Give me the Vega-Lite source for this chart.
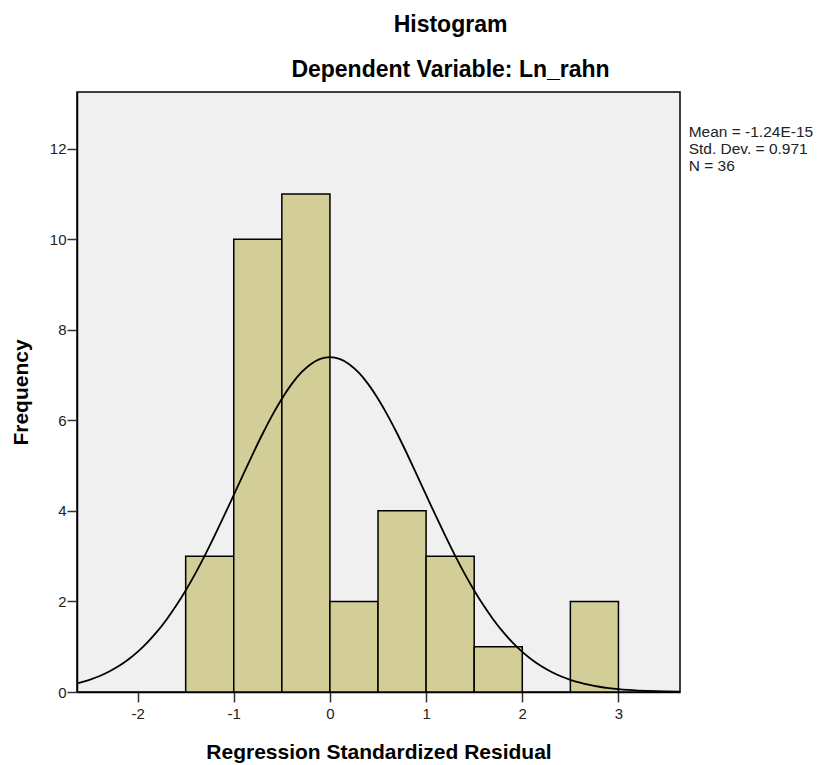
{
  "$schema": "https://vega.github.io/schema/vega-lite/v6.json",
  "autosize": {"type": "none"},
  "padding": {"left": 77, "top": 92, "right": 137, "bottom": 73},
  "width": 603,
  "height": 600,
  "background": "white",
  "config": {
    "font": "Liberation Sans",
    "view": {"fill": "#F0F0F0", "stroke": "black", "strokeWidth": 1.5},
    "axis": {"grid": false, "domainColor": "black", "domainWidth": 1.5, "tickColor": "#333", "tickSize": 10, "tickWidth": 1.5,
      "labelFont": "Liberation Sans", "labelFontSize": 15, "labelColor": "#222", "titleFont": "Liberation Sans", "titleFontSize": 21, "titleFontWeight": "bold", "titleColor": "black"}
  },
  "title": {
    "text": "Histogram",
    "subtitle": "Dependent Variable: Ln_rahn",
    "anchor": "middle",
    "dx": 72,
    "offset": 10,
    "fontSize": 23,
    "fontWeight": "bold",
    "subtitleFontSize": 23,
    "subtitleFontWeight": "bold",
    "subtitleColor": "black",
    "color": "black",
    "font": "Liberation Sans",
    "subtitleFont": "Liberation Sans",
    "subtitlePadding": 22
  },
  "datasets": {
    "bars": [
      {"x0": -1.5, "x1": -1.0, "count": 3},
      {"x0": -1.0, "x1": -0.5, "count": 10},
      {"x0": -0.5, "x1": 0.0, "count": 11},
      {"x0": 0.0, "x1": 0.5, "count": 2},
      {"x0": 0.5, "x1": 1.0, "count": 4},
      {"x0": 1.0, "x1": 1.5, "count": 3},
      {"x0": 1.5, "x1": 2.0, "count": 1},
      {"x0": 2.5, "x1": 3.0, "count": 2}
    ],
    "curve": [
      {"x": -2.63, "y": 0.1888}, {"x": -2.5, "y": 0.2688}, {"x": -2.4, "y": 0.3486}, {"x": -2.3, "y": 0.4473},
      {"x": -2.2, "y": 0.5679}, {"x": -2.1, "y": 0.7134}, {"x": -2.0, "y": 0.8866}, {"x": -1.9, "y": 1.0903},
      {"x": -1.8, "y": 1.3265}, {"x": -1.7, "y": 1.5972}, {"x": -1.6, "y": 1.9027}, {"x": -1.5, "y": 2.2425},
      {"x": -1.4, "y": 2.6153}, {"x": -1.3, "y": 3.018}, {"x": -1.2, "y": 3.4459}, {"x": -1.1, "y": 3.8928},
      {"x": -1.0, "y": 4.3514}, {"x": -0.9, "y": 4.8127}, {"x": -0.8, "y": 5.2666}, {"x": -0.7, "y": 5.7027},
      {"x": -0.6, "y": 6.1098}, {"x": -0.5, "y": 6.4767}, {"x": -0.4, "y": 6.7934}, {"x": -0.3, "y": 7.0503},
      {"x": -0.2, "y": 7.2398}, {"x": -0.1, "y": 7.3559}, {"x": 0.0, "y": 7.395}, {"x": 0.1, "y": 7.3559},
      {"x": 0.2, "y": 7.2398}, {"x": 0.3, "y": 7.0503}, {"x": 0.4, "y": 6.7934}, {"x": 0.5, "y": 6.4767},
      {"x": 0.6, "y": 6.1098}, {"x": 0.7, "y": 5.7027}, {"x": 0.8, "y": 5.2666}, {"x": 0.9, "y": 4.8127},
      {"x": 1.0, "y": 4.3514}, {"x": 1.1, "y": 3.8928}, {"x": 1.2, "y": 3.4459}, {"x": 1.3, "y": 3.018},
      {"x": 1.4, "y": 2.6153}, {"x": 1.5, "y": 2.2425}, {"x": 1.6, "y": 1.9027}, {"x": 1.7, "y": 1.5972},
      {"x": 1.8, "y": 1.3265}, {"x": 1.9, "y": 1.0903}, {"x": 2.0, "y": 0.8866}, {"x": 2.1, "y": 0.7134},
      {"x": 2.2, "y": 0.5679}, {"x": 2.3, "y": 0.4473}, {"x": 2.4, "y": 0.3486}, {"x": 2.5, "y": 0.2688},
      {"x": 2.6, "y": 0.2052}, {"x": 2.7, "y": 0.1549}, {"x": 2.8, "y": 0.1157}, {"x": 2.9, "y": 0.0855},
      {"x": 3.0, "y": 0.0625}, {"x": 3.1, "y": 0.0453}, {"x": 3.2, "y": 0.0324}, {"x": 3.3, "y": 0.0229},
      {"x": 3.4, "y": 0.0161}, {"x": 3.5, "y": 0.0112}, {"x": 3.64, "y": 0.0066}
    ],
    "stats": [
      {"x": 3.73, "y": 12.52, "label": "Mean = -1.24E-15\nStd. Dev. = 0.971\nN = 36"}
    ]
  },
  "encoding": {},
  "layer": [
    {
      "data": {"name": "bars"},
      "mark": {"type": "rect", "fill": "#D3CE97", "stroke": "black", "strokeWidth": 1.5},
      "encoding": {
        "x": {"field": "x0", "type": "quantitative", "scale": {"domain": [-2.63, 3.64], "nice": false, "zero": false},
          "axis": {"values": [-2, -1, 0, 1, 2, 3], "labelExpr": "datum.value + ''", "title": "Regression Standardized Residual", "titlePadding": 20, "labelPadding": 4}},
        "x2": {"field": "x1"},
        "y": {"field": "count", "type": "quantitative", "scale": {"domain": [0, 13.25], "nice": false},
          "axis": {"values": [0, 2, 4, 6, 8, 10, 12], "title": "Frequency", "titlePadding": 18, "labelPadding": 1}},
        "y2": {"datum": 0}
      }
    },
    {
      "data": {"name": "curve"},
      "mark": {"type": "line", "color": "black", "strokeWidth": 1.8, "interpolate": "monotone", "clip": true},
      "encoding": {
        "x": {"field": "x", "type": "quantitative"},
        "y": {"field": "y", "type": "quantitative"}
      }
    },
    {
      "data": {"name": "stats"},
      "mark": {"type": "text", "align": "left", "baseline": "top", "lineBreak": "\n", "fontSize": 15.5, "lineHeight": 16.8, "color": "#222", "font": "Liberation Sans"},
      "encoding": {
        "x": {"field": "x", "type": "quantitative"},
        "y": {"field": "y", "type": "quantitative"},
        "text": {"field": "label"}
      }
    }
  ]
}
